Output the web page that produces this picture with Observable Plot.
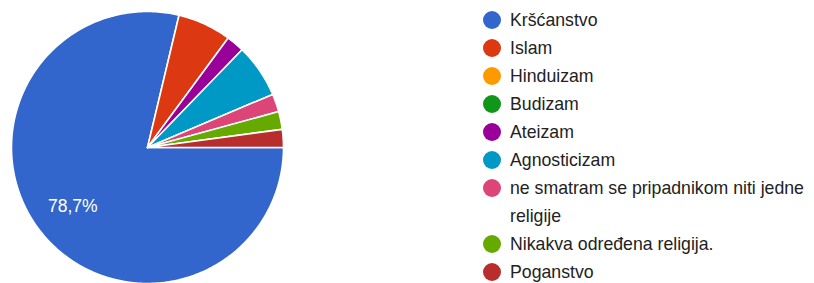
<!DOCTYPE html>
<html>
<head>
<meta charset="utf-8">
<script src="https://cdn.jsdelivr.net/npm/d3@7"></script>
<script src="https://cdn.jsdelivr.net/npm/@observablehq/plot@0.6"></script>
<style>
  html, body { margin: 0; padding: 0; background: #fff; }
  #wrap { position: relative; width: 814px; height: 283px; overflow: hidden; font-family: "Liberation Sans", Arial, sans-serif; }
  #legend { position: absolute; left: 483px; top: 6px; width: 331px; }
  .item { display: flex; align-items: flex-start; }
  .sw { flex: 0 0 18px; width: 18px; height: 18px; border-radius: 50%; margin-top: 5px; margin-right: 9px; }
  .lab { font-size: 17.7px; line-height: 28px; color: #222; max-width: 300px; }
</style>
</head>
<body>
<div id="wrap"><div id="legend"></div></div>
<script>
const categories = ["Kršćanstvo", "Islam", "Hinduizam", "Budizam", "Ateizam", "Agnosticizam",
  "ne smatram se pripadnikom niti jedne religije", "Nikakva određena religija.", "Poganstvo"];
const counts = [37, 3, 0, 0, 1, 3, 1, 1, 1];
const colors = ["#3366cc", "#dc3912", "#ff9900", "#109618", "#990099", "#0099c6", "#dd4477", "#66aa00", "#b82e2e"];

const data = categories.map((c, i) => ({cat: c, value: counts[i]}));
const total = d3.sum(counts);
const arcs = d3.pie().sort(null).value(d => d.value)
  .startAngle(Math.PI / 2).endAngle(Math.PI / 2 + 2 * Math.PI)(data);

// polygon points for each slice (unit circle, y up)
const pts = [];
for (const a of arcs) {
  if (a.data.value <= 0) continue;
  const n = Math.max(2, Math.ceil((a.endAngle - a.startAngle) / (Math.PI / 180)));
  pts.push({cat: a.data.cat, x: 0, y: 0});
  for (let k = 0; k <= n; k++) {
    const t = a.startAngle + (a.endAngle - a.startAngle) * k / n;
    pts.push({cat: a.data.cat, x: Math.sin(t), y: Math.cos(t)});
  }
  pts.push({cat: a.data.cat, x: 0, y: 0});
}
const labels = arcs.filter(a => a.data.value / total > 0.1).map(a => {
  const m = (a.startAngle + a.endAngle) / 2;
  return {x: 0.7 * Math.sin(m), y: 0.7 * Math.cos(m),
    text: (100 * a.data.value / total).toFixed(1).replace(".", ",") + "%"};
});

const cx = 147, cy = 147, r = 136;
const chart = Plot.plot({
  width: 814, height: 283,
  margin: 0,
  x: {domain: [-1, 1], range: [cx - r, cx + r], axis: null},
  y: {domain: [-1, 1], range: [cy + r, cy - r], axis: null},
  color: {domain: categories, range: colors},
  style: {fontFamily: "Liberation Sans, Arial, sans-serif", background: "#fff"},
  marks: [
    Plot.line(pts, {x: "x", y: "y", z: "cat", fill: "cat", stroke: "white", strokeWidth: 1.6, strokeLinejoin: "round", curve: "linear"}),
    Plot.text(labels, {x: "x", y: "y", text: "text", fill: "white", fontSize: 17.5})
  ]
});
const wrap = document.getElementById("wrap");
wrap.insertBefore(chart, wrap.firstChild);

const legend = document.getElementById("legend");
categories.forEach((c, i) => {
  const it = document.createElement("div");
  it.className = "item";
  const sw = document.createElement("span");
  sw.className = "sw"; sw.style.background = colors[i];
  const lb = document.createElement("span");
  lb.className = "lab"; lb.textContent = c;
  it.appendChild(sw); it.appendChild(lb);
  legend.appendChild(it);
});
</script>
</body>
</html>
